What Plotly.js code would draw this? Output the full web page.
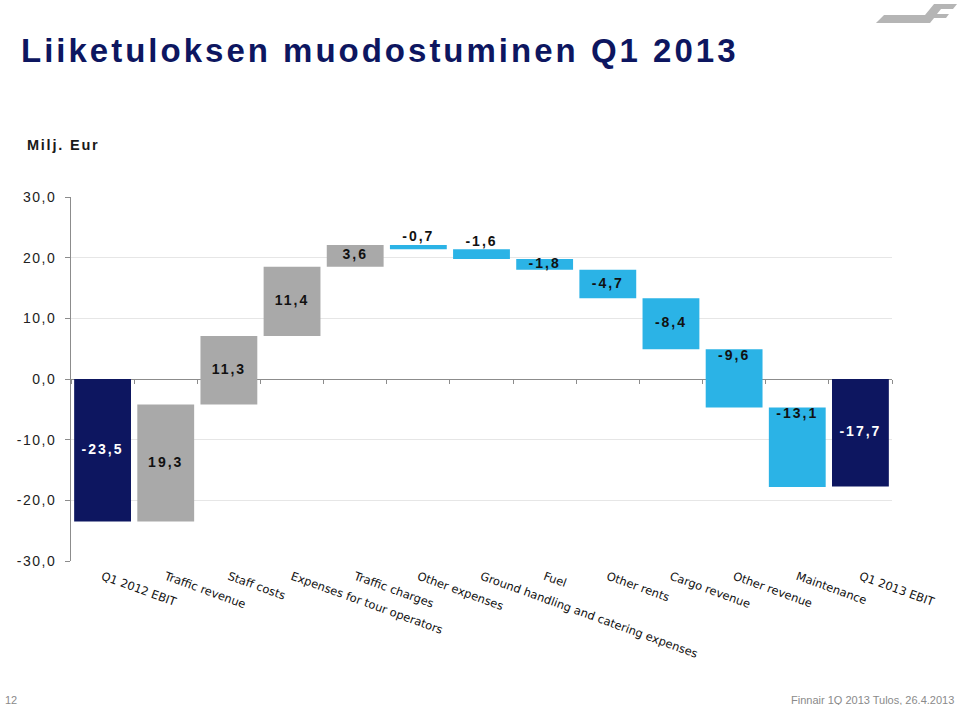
<!DOCTYPE html>
<html>
<head>
<meta charset="utf-8">
<script src="https://cdn.plot.ly/plotly-3.0.1.min.js"></script>
<style>
  html, body { margin: 0; padding: 0; background: #fff; }
  #chart { width: 960px; height: 705px; }
  .gtitle { letter-spacing: 3px; }
  .ytick text { letter-spacing: 1.5px; }
  .textpoint text { letter-spacing: 2px; }
  .ls1 .annotation-text { letter-spacing: 1.8px; }
</style>
</head>
<body>
<div id="chart"></div>
<script>
// ---- data ----
const categories = [
  "Q1 2012 EBIT", "Traffic revenue", "Staff costs", "Expenses for tour operators",
  "Traffic charges", "Other expenses", "Ground handling and catering expenses", "Fuel",
  "Other rents", "Cargo revenue", "Other revenue", "Maintenance", "Q1 2013 EBIT"
];
const values = [-23.5, 19.3, 11.3, 11.4, 3.6, -0.7, -1.6, -1.8, -4.7, -8.4, -9.6, -13.1, -17.7];
const kinds  = ["total", "delta", "delta", "delta", "delta", "delta", "delta", "delta",
                "delta", "delta", "delta", "delta", "total"];
const labels = ["-23,5", "19,3", "11,3", "11,4", "3,6", "-0,7", "-1,6", "-1,8",
                "-4,7", "-8,4", "-9,6", "-13,1", "-17,7"];
const yTickVals = [-30, -20, -10, 0, 10, 20, 30];
const yTickText = ["-30,0", "-20,0", "-10,0", "0,0", "10,0", "20,0", "30,0"];

// ---- styling ----
const NAVY = "#0d1660", GRAY = "#a9a9a9", BLUE = "#2bb3e6";

// compute waterfall bases from data
const bases = [];
let run = 0;
values.forEach((v, i) => {
  if (kinds[i] === "total") { bases.push(0); run = v; }
  else { bases.push(run); run += v; }
});
const colors = values.map((v, i) => kinds[i] === "total" ? NAVY : (v >= 0 ? GRAY : BLUE));

// label anchoring (style choice per bar)
const labelMode = values.map((v, i) => {
  if (kinds[i] === "total") return "mid";
  if (Math.abs(v) < 1.7) return "above";
  if (i === 10 || i === 11) return "topin";
  return "mid";
});
const labelY = values.map((v, i) => {
  const lo = Math.min(bases[i], bases[i] + v), hi = Math.max(bases[i], bases[i] + v);
  if (labelMode[i] === "mid") return (lo + hi) / 2;
  return hi;
});
const labelPos = labelMode.map(m => m === "mid" ? "middle center" : (m === "above" ? "top center" : "bottom center"));
const labelColor = kinds.map(k => k === "total" ? "#ffffff" : "#111111");

const bars = {
  type: "bar",
  x: categories,
  y: values,
  base: bases,
  marker: { color: colors, line: { width: 0 } },
  hoverinfo: "skip",
  showlegend: false
};

const texts = {
  type: "scatter",
  mode: "text",
  xaxis: "x2",
  yaxis: "y",
  x: categories.map((c, i) => i),
  y: labelY,
  text: labels,
  textposition: labelPos,
  textfont: { family: "Liberation Sans, Arial, sans-serif", size: 14, color: labelColor, weight: "bold" },
  hoverinfo: "skip",
  showlegend: false,
  cliponaxis: false
};

// pixel -> paper helpers for decorations
const L = 71, R = 892, T = 197, B = 561;
const px = x => (x - L) / (R - L);
const py = y => (B - y) / (B - T);
const logoPts = [[876,23],[884,15],[925,15],[934,4],[957,4],[953,9],[941,9],[937,14],[949,14],[946,18],[934,18],[930,23]];
const logoPath = "M " + logoPts.map(p => px(p[0]).toFixed(4) + "," + py(p[1]).toFixed(4)).join(" L ") + " Z";

const layout = {
  width: 960, height: 705,
  margin: { l: L, r: 960 - R, t: T, b: 705 - B },
  paper_bgcolor: "#ffffff",
  plot_bgcolor: "#ffffff",
  separators: ", ",
  bargap: 0.1,
  font: { family: "Liberation Sans, Arial, sans-serif", color: "#222" },
  title: {
    text: "Liiketuloksen muodostuminen Q1 2013",
    font: { family: "Liberation Sans, Arial, sans-serif", size: 33, color: "#0d1660", weight: "bold" },
    xref: "container", yref: "container",
    x: 21 / 960, xanchor: "left",
    y: 1 - 50 / 705, yanchor: "middle"
  },
  xaxis: {
    type: "category",
    range: [-0.5, 12.5],
    showgrid: false, zeroline: false, showline: false,
    ticks: "",
    tickangle: 20,
    ticklabelstandoff: 6,
    tickfont: { family: "DejaVu Sans, Verdana, sans-serif", size: 11.5, color: "#111" },
    fixedrange: true
  },
  xaxis2: {
    overlaying: "x",
    anchor: "free",
    position: 0.5,
    range: [-0.5, 12.5],
    tickmode: "linear", tick0: -0.5, dtick: 1,
    ticks: "outside", ticklen: 4, tickcolor: "#8c8c8c", tickwidth: 1,
    showticklabels: false, showgrid: false, zeroline: false, showline: false,
    fixedrange: true
  },
  yaxis: {
    range: [-30, 30],
    tickmode: "array", tickvals: yTickVals, ticktext: yTickText,
    showline: true, linecolor: "#8c8c8c", linewidth: 1,
    ticks: "outside", ticklen: 5, tickcolor: "#8c8c8c",
    showgrid: true, gridcolor: "#e6e6e6", gridwidth: 1,
    zeroline: true, zerolinecolor: "#8c8c8c", zerolinewidth: 1,
    tickfont: { family: "Liberation Sans, Arial, sans-serif", size: 14, color: "#222" },
    ticklabelstandoff: 6,
    fixedrange: true
  },
  shapes: [
    { type: "path", xref: "paper", yref: "paper", path: logoPath,
      fillcolor: "#b5b5b5", line: { width: 0 } }
  ],
  annotations: [
    { text: "Milj. Eur", xref: "paper", yref: "paper", x: px(33), y: py(145),
      xanchor: "left", yanchor: "middle", showarrow: false,
      font: { family: "Liberation Sans, Arial, sans-serif", size: 14.5, color: "#1a1a1a", weight: "bold" } },
    { text: "12", xref: "paper", yref: "paper", x: px(3), y: py(700),
      xanchor: "left", yanchor: "middle", showarrow: false,
      font: { family: "Liberation Sans, Arial, sans-serif", size: 11, color: "#8a8a8a" } },
    { text: "Finnair 1Q 2013 Tulos, 26.4.2013", xref: "paper", yref: "paper", x: px(956), y: py(700),
      xanchor: "right", yanchor: "middle", showarrow: false,
      font: { family: "Liberation Sans, Arial, sans-serif", size: 11, color: "#8a8a8a" } }
  ]
};

Plotly.newPlot("chart", [bars, texts], layout, { displayModeBar: false, staticPlot: true }).then(() => {
  const a = document.querySelectorAll(".annotation")[0];
  if (a) a.classList.add("ls1");
});
</script>
</body>
</html>
